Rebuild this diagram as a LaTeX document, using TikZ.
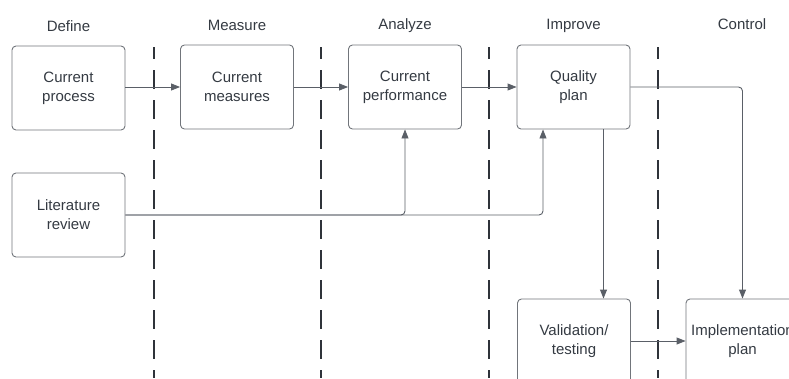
\documentclass[tikz,border=0pt]{standalone}
\usepackage{fontspec}
\setmainfont{Liberation Sans}
\usetikzlibrary{arrows.meta}
\definecolor{ink}{HTML}{343A42}
\definecolor{boxline}{HTML}{71757B}
\definecolor{wire}{HTML}{5A5F67}
\definecolor{divline}{HTML}{2F333A}
\tikzset{
  stage/.style={draw=boxline, line width=0.9pt, rounded corners=4pt,
    minimum width=113pt, minimum height=84pt, inner sep=0pt,
    align=center, text=ink, font=\fontsize{15}{19}\selectfont},
  phase/.style={anchor=base, text=ink, inner sep=0pt,
    font=\fontsize{15}{19}\selectfont},
  conn/.style={draw=wire, line width=0.9pt, rounded corners=4pt,
    -{Triangle[length=9pt,width=7pt]}},
  divider/.style={draw=divline, line width=2.4pt,
    dash pattern=on 19pt off 11pt, dash phase=7pt}
}
\begin{document}
\begin{tikzpicture}[x=1pt,y=-1pt]
\useasboundingbox (0,0) rectangle (789,378);
\clip (0,0) rectangle (789,378);

% phase dividers
\draw[divider] (154,47) -- (154,378);
\draw[divider] (321,47) -- (321,378);
\draw[divider] (489,47) -- (489,378);
\draw[divider] (658,47) -- (658,378);

% phase headings
\node[phase] (hdef) at (68.5,31) {Define};
\node[phase] (hmea) at (237,30) {Measure};
\node[phase] (hana) at (405,29) {Analyze};
\node[phase] (himp) at (573.5,29) {Improve};
\node[phase] (hcon) at (742,29) {Control};

% process steps
\node[stage] (proc) at (68.5,88) {Current\\process};
\node[stage] (meas) at (237,87) {Current\\measures};
\node[stage] (perf) at (405,87) {Current\\performance};
\node[stage] (qual) at (573.5,87) {Quality\\plan};
\node[stage] (lit) at (68.5,215) {Literature\\review};
\node[stage] (valid) at (574,341) {Validation/\\testing};
\node[stage] (impl) at (742.5,341) {Implementation\\plan};

% connectors
\draw[conn] (proc.east |- meas.west) -- (meas.west);
\draw[conn] (meas.east) -- (perf.west);
\draw[conn] (perf.east) -- (qual.west);
\draw[conn] (lit.east) -| (perf.south);
\draw[conn] (lit.east) -| ([xshift=-30.5pt]qual.south);
\draw[conn] ([xshift=30pt]qual.south) -- ([xshift=30pt]qual.south |- valid.north);
\draw[conn] (qual.east) -| (impl.north);
\draw[conn] (valid.east) -- (impl.west);
\end{tikzpicture}
\end{document}
